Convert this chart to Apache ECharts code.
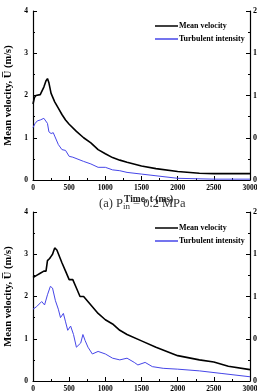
<!DOCTYPE html>
<html>
<head>
<meta charset="utf-8">
<script src="https://cdn.jsdelivr.net/npm/echarts@6/dist/echarts.min.js"></script>
<style>
  html, body { margin: 0; padding: 0; background: #fff; }
  #main { width: 257px; height: 391px; }
</style>
</head>
<body>
<div id="main"></div>
<script>
// (a) 0.2 MPa - mean velocity (m/s), left axis
var timeMeanA = [0, 20, 40, 100, 150, 180, 200, 220, 250, 300, 350, 400, 450, 500, 600, 700, 800, 900, 1000, 1100, 1200, 1300, 1500, 1700, 2000, 2300, 2500, 3000];
var meanA     = [1.8, 1.95, 2.0, 2.02, 2.2, 2.35, 2.4, 2.3, 2.05, 1.85, 1.7, 1.55, 1.42, 1.32, 1.15, 1.0, 0.88, 0.72, 0.62, 0.53, 0.47, 0.42, 0.33, 0.27, 0.2, 0.16, 0.15, 0.15];
// (a) turbulent intensity, right axis
var timeTurbA = [0, 30, 60, 100, 150, 170, 200, 220, 250, 280, 300, 350, 400, 450, 500, 550, 700, 800, 900, 1000, 1100, 1200, 1300, 1500, 1700, 2000, 2500, 3000];
var turbA     = [0.62, 0.67, 0.7, 0.71, 0.73, 0.72, 0.67, 0.57, 0.55, 0.56, 0.52, 0.42, 0.36, 0.35, 0.28, 0.27, 0.22, 0.19, 0.15, 0.15, 0.12, 0.11, 0.09, 0.07, 0.05, 0.02, 0.01, 0.01];

// (b) mean velocity
var timeMeanB = [0, 50, 100, 150, 180, 200, 230, 250, 270, 300, 330, 400, 450, 500, 550, 600, 650, 700, 800, 900, 1000, 1100, 1200, 1300, 1500, 1700, 2000, 2300, 2500, 2700, 3000];
var meanB     = [2.45, 2.5, 2.55, 2.6, 2.6, 2.85, 2.9, 2.95, 3.0, 3.15, 3.1, 2.8, 2.6, 2.4, 2.4, 2.2, 2.0, 2.0, 1.8, 1.6, 1.45, 1.35, 1.2, 1.1, 0.95, 0.8, 0.6, 0.5, 0.45, 0.35, 0.27];
// (b) turbulent intensity
var timeTurbB = [0, 50, 120, 160, 200, 240, 270, 290, 310, 350, 380, 420, 450, 480, 520, 560, 600, 620, 660, 690, 720, 760, 820, 900, 1000, 1100, 1200, 1300, 1400, 1450, 1550, 1650, 1800, 2000, 2300, 2600, 3000];
var turbB     = [0.85, 0.88, 0.94, 0.9, 1.02, 1.12, 1.1, 1.12, 0.95, 0.85, 0.75, 0.8, 0.7, 0.6, 0.65, 0.55, 0.4, 0.38, 0.45, 0.55, 0.48, 0.4, 0.32, 0.35, 0.32, 0.27, 0.25, 0.27, 0.22, 0.19, 0.22, 0.17, 0.15, 0.14, 0.12, 0.09, 0.05];

function pairs(xs, ys) {
    return xs.map(function (x, i) { return [x, ys[i]]; });
}

var serif = 'Liberation Serif';
var lbl = { fontFamily: serif, fontWeight: 'bold', fontSize: 7.5, color: '#000' };
var blue = '#4646e8';

function xAxisOf(gi) {
    return {
        type: 'value', gridIndex: gi, min: 0, max: 3000, interval: 500,
        axisLine: { lineStyle: { color: '#000', width: 1.2 } },
        axisTick: { inside: true, length: 4, lineStyle: { color: '#000' } },
        minorTick: { show: true, splitNumber: 2, length: 2, lineStyle: { color: '#000' } },
        splitLine: { show: false },
        axisLabel: Object.assign({ margin: 4, formatter: function (v) { return String(v); } }, lbl)
    };
}
function leftAxisOf(gi) {
    return {
        type: 'value', gridIndex: gi, min: 0, max: 4, interval: 1, position: 'left',
        name: 'Mean velocity, U\u0305 (m/s)', nameLocation: 'middle', nameGap: 12, nameRotate: 90,
        nameTextStyle: { fontFamily: serif, fontWeight: 'bold', fontSize: 10.5, color: '#000' },
        axisLine: { show: true, lineStyle: { color: '#000', width: 1.2 } },
        axisTick: { inside: true, length: 4, lineStyle: { color: '#000' } },
        minorTick: { show: true, splitNumber: 2, length: 2, lineStyle: { color: '#000' } },
        splitLine: { show: false },
        axisLabel: Object.assign({ margin: 5 }, lbl)
    };
}
function rightAxisOf(gi) {
    return {
        type: 'value', gridIndex: gi, min: 0, max: 2, interval: 0.5, position: 'right',
        axisLine: { show: true, lineStyle: { color: '#000', width: 1.2 } },
        axisTick: { inside: true, length: 4, lineStyle: { color: '#000' } },
        minorTick: { show: true, splitNumber: 2, length: 2, lineStyle: { color: '#000' } },
        splitLine: { show: false },
        axisLabel: Object.assign({ margin: 3, formatter: function (v) { return v.toFixed(1); } }, lbl, { fontSize: 8 })
    };
}
function legendAt(top) {
    return {
        top: top, left: 150, orient: 'vertical', icon: 'rect', itemWidth: 23, itemHeight: 1.5, itemGap: 5,
        textStyle: { fontFamily: serif, fontWeight: 'bold', fontSize: 8, color: '#000', padding: [0, 0, 0, -4] },
        data: ['Mean velocity', 'Turbulent intensity']
    };
}

var chart = echarts.init(document.getElementById('main'));
var option = {
    backgroundColor: '#fff',
    animation: false,
    grid: [
        { left: 33, right: 7, top: 11, height: 169, containLabel: false, outerBoundsMode: 'none' },
        { left: 33, right: 7, top: 212, height: 169, containLabel: false, outerBoundsMode: 'none' }
    ],
    legend: [legendAt(17), legendAt(219)],
    xAxis: [xAxisOf(0), xAxisOf(1)],
    yAxis: [leftAxisOf(0), rightAxisOf(0), leftAxisOf(1), rightAxisOf(1)],
    graphic: [
        { type: 'text', left: 99, top: 197, style: {
            text: '(a) P{s|in} = 0.2 MPa',
            rich: { s: { fontSize: 9, padding: [7, 0, 0, 0], fontFamily: serif } },
            font: '12.5px "Liberation Serif"', fill: '#333' } },
        { type: 'text', left: 124, top: 195, style: { text: 'Time, t (ms)', font: 'bold 9.5px "Liberation Serif"', fill: '#222' } }
    ],
    series: [
        { name: 'Mean velocity', type: 'line', xAxisIndex: 0, yAxisIndex: 0, symbol: 'none',
          lineStyle: { color: '#000', width: 1.6 }, itemStyle: { color: '#000' }, data: pairs(timeMeanA, meanA) },
        { name: 'Turbulent intensity', type: 'line', xAxisIndex: 0, yAxisIndex: 1, symbol: 'none',
          lineStyle: { color: blue, width: 1 }, itemStyle: { color: blue }, data: pairs(timeTurbA, turbA) },
        { name: 'Mean velocity', type: 'line', xAxisIndex: 1, yAxisIndex: 2, symbol: 'none',
          lineStyle: { color: '#000', width: 1.6 }, itemStyle: { color: '#000' }, data: pairs(timeMeanB, meanB) },
        { name: 'Turbulent intensity', type: 'line', xAxisIndex: 1, yAxisIndex: 3, symbol: 'none',
          lineStyle: { color: blue, width: 1 }, itemStyle: { color: blue }, data: pairs(timeTurbB, turbB) }
    ]
};
chart.setOption(option);
</script>
</body>
</html>
